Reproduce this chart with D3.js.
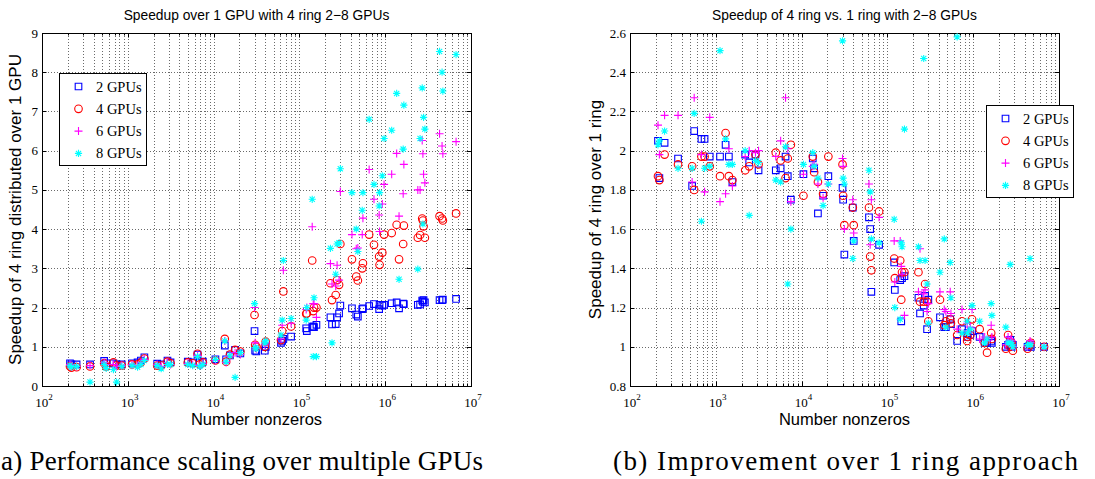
<!DOCTYPE html>
<html>
<head>
<meta charset="utf-8">
<script src="https://cdn.jsdelivr.net/npm/d3@7"></script>
<style>
  html, body { margin: 0; padding: 0; background: #fff; }
  svg { display: block; }
</style>
</head>
<body>
<svg id="fig" width="1095" height="479"></svg>
<script>
// Number of nonzeros of each test matrix (shared by both panels)
const nnz = [212, 220, 253, 363, 530, 560, 680, 740, 850, 1120,
  1300, 1420, 1560, 2200, 2450, 2900, 3150, 5000, 5700, 6500,
  6900, 7500, 10500, 13500, 14000, 15500, 17800, 20500, 30000, 30500,
  31500, 39500, 40500, 61000, 63000, 65000, 80000, 120000, 122000, 141000,
  145000, 148000, 158000, 230000, 240000, 265000, 275000, 290000, 300000, 410000,
  460000, 480000, 540000, 550000, 650000, 740000, 850000, 860000, 925000, 970000,
  1190000, 1360000, 1450000, 1620000, 1650000, 2400000, 2550000, 2700000, 2750000, 2800000,
  2900000, 4300000, 4600000, 4700000, 6700000];

// Panel (a): speedup of 4-ring distribution over a single GPU
const speedup2 = [.58, .55, .55, .55, .64, .58, .58, .55, .55, .58,
  .60, .65, .73, .57, .55, .65, .60, .62, .60, .80,
  .60, .62, .68, 1.03, .68, .78, .92, .83, 1.40, .90,
  .88, .90, 1.00, 1.10, 1.15, 1.20, 1.26, 1.47, 1.40, 1.50,
  1.52, 1.50, 1.56, 1.75, 1.57, 1.58, 1.75, 1.85, 2.05, 1.98,
  1.82, 1.77, 1.96, 1.98, 2.04, 2.09, 1.96, 2.07, 2.05, 2.07,
  2.11, 2.13, 1.98, 2.10, 2.09, 2.07, 2.08, 2.18, 2.15, 2.19,
  2.13, 2.19, 2.19, 2.20, 2.22];
const speedup4 = [.50, .47, .48, .50, .58, .50, .60, .52, .52, .55,
  .55, .60, .70, .52, .52, .62, .58, .60, .58, .82,
  .55, .60, .65, 1.20, .62, .80, .92, .88, 1.81, 1.05,
  1.00, 1.00, 1.13, 1.17, 1.40, 2.41, 1.52, 1.84, 1.85, 3.20,
  1.91, 2.00, 2.00, 2.62, 2.19, 2.32, 2.70, 2.58, 3.62, 3.23,
  2.79, 2.69, 3.00, 3.13, 3.86, 3.60, 3.30, 3.09, 3.40, 3.86,
  3.90, 4.11, 3.23, 3.62, 4.09, 3.78, 3.85, 4.27, 4.22, 4.07,
  3.78, 4.33, 4.27, 4.22, 4.40];
const speedup6 = [.55, .50, .50, .52, .60, .55, .55, .50, .52, .55,
  .52, .60, .68, .55, .50, .60, .55, .58, .55, .78,
  .52, .58, .65, 1.15, .60, .75, .85, .80, 2.00, 1.10,
  .95, 1.05, 1.10, 1.20, 1.55, 2.95, 1.60, 1.95, 2.00, 4.06,
  2.10, 2.10, 1.75, 3.12, 2.60, 2.55, 3.08, 2.70, 4.96, 3.86,
  3.50, 3.52, 3.86, 4.28, 5.52, 4.76, 4.36, 3.94, 4.64, 5.14,
  5.40, 5.93, 4.33, 4.90, 5.65, 5.00, 5.00, 6.26, 5.92, 5.40,
  5.18, 6.43, 6.12, 5.92, 6.23];
const speedup8 = [.52, .48, .50, .10, .55, .45, .42, .10, .50, .52,
  .48, .55, .65, .52, .44, .55, .55, .55, .52, .75,
  .50, .55, .68, 1.15, .62, .77, .22, .85, 2.10, .98,
  .95, 1.10, 1.15, 1.30, 1.68, 3.20, 1.72, 1.68, 2.00, 4.76,
  .75, 2.25, .75, 3.51, 1.10, 2.85, 3.62, 3.65, 5.54, 4.93,
  4.00, 3.43, 4.48, 4.93, 6.80, 5.14, 4.59, 4.93, 5.36, 6.31,
  6.52, 7.46, 2.72, 6.04, 7.16, 2.98, 6.31, 7.60, 4.13, 6.85,
  6.55, 8.53, 8.00, 7.52, 8.45];

// Panel (b): speedup of 4 rings versus 1 ring
const ringGain2 = [2.05, 1.86, 2.04, 1.96, 1.82, 2.10, 2.06, 2.06, 1.97, 1.97,
  2.03, 1.97, 1.84, 1.98, 1.94, 1.98, 1.90, 1.90, 1.91, 1.97,
  1.87, 1.75, 1.88, 1.96, 1.91, 1.68, 1.77, 1.87, 1.81, 1.75,
  1.47, 1.71, 1.54, 1.66, 1.60, 1.28, 1.52, 1.43, 1.29, 1.34,
  1.13, 1.35, 1.36, 1.25, 1.17, 1.21, 1.26, 1.09, 1.24, 1.15,
  1.10, 1.10, 1.14, 1.115, 1.03, 1.09, 1.05, 1.07, 1.06, 1.08,
  1.05, 1.02, 1.02, 1.03, 1.02, 1.00, 1.01, 1.035, 1.01, 1.00,
  1.01, 1.00, 1.01, 1.00, 1.00];
const ringGain4 = [1.87, 1.85, 1.98, 1.93, 1.92, 1.80, 1.97, 1.97, 1.92, 1.87,
  2.09, 1.87, 1.85, 1.90, 1.92, 1.98, 1.93, 1.99, 1.95, 1.86,
  1.96, 2.03, 1.77, 1.97, 1.89, 1.84, 1.78, 1.97, 1.93, 1.77,
  1.62, 1.71, 1.62, 1.71, 1.46, 1.39, 1.69, 1.45, 1.35, 1.44,
  1.24, 1.38, 1.38, 1.38, 1.23, 1.23, 1.32, 1.23, 1.13, 1.24,
  1.11, 1.13, 1.14, 1.12, 1.06, 1.13, 1.03, 1.05, 1.06, 1.14,
  1.09, 1.02, 0.97, 1.07, 1.04, 0.99, 1.06, 1.00, 1.01, 1.02,
  0.98, 0.99, 1.01, 1.02, 1.00];
const ringGain6 = [2.13, 1.98, 2.18, 2.18, 1.84, 2.27, 1.98, 1.79, 2.17, 1.74,
  1.78, 2.01, 1.82, 1.97, 2.00, 1.99, 2.00, 1.97, 2.05, 2.27,
  2.01, 1.74, 1.88, 1.92, 1.93, 1.83, 1.76, 1.83, 1.96, 1.92,
  1.60, 1.75, 1.58, 1.83, 1.52, 1.75, 1.66, 1.54, 1.33, 1.54,
  1.41, 1.37, 1.16, 1.28, 1.50, 1.27, 1.29, 1.18, 1.22, 1.28,
  1.19, 1.18, 1.28, 1.17, 1.09, 1.19, 1.12, 1.08, 1.10, 1.19,
  1.04, 1.05, 1.03, 1.11, 1.05, 1.01, 1.05, 1.02, 1.04, 1.03,
  1.00, 1.00, 1.03, 1.02, 1.00];
const ringGain8 = [2.03, 2.05, 2.10, 1.91, 1.91, 2.19, 1.64, 1.91, 1.92, 2.51,
  2.06, 1.93, 1.93, 2.00, 1.67, 1.95, 1.94, 1.85, 1.84, 2.02,
  1.32, 1.60, 1.93, 1.99, 1.92, 1.86, 1.72, 1.83, 2.56, 1.86,
  1.83, 1.45, 1.54, 1.90, 1.79, 1.55, 1.53, 1.65, 1.20, 1.14,
  1.53, 1.51, 2.11, 1.51, 1.44, 2.47, 1.44, 1.32, 1.12, 1.38,
  1.55, 1.10, 1.43, 1.25, 2.58, 1.07, 1.13, 1.07, 1.09, 1.21,
  1.13, 1.02, 1.04, 1.22, 1.16, 1.10, 1.02, 1.42, 1.02, 1.01,
  1.00, 1.01, 1.45, 1.01, 1.00];

const seriesNames = ["2 GPUs", "4 GPUs", "6 GPUs", "8 GPUs"];
const xTickExponents = [2, 3, 4, 5, 6, 7];
const yTicksA = [0, 1, 2, 3, 4, 5, 6, 7, 8, 9];
const yTicksB = [0.8, 1, 1.2, 1.4, 1.6, 1.8, 2, 2.2, 2.4, 2.6];

// Marker look for each series (MATLAB style: square, circle, plus, asterisk)
const markerStyles = [
  { color: "#0000ff", path: "M-3.3,-3.3H3.3V3.3H-3.3Z" },
  { color: "#ff0000", path: "M3.8,0A3.8,3.8 0 1,1 -3.8,0A3.8,3.8 0 1,1 3.8,0Z" },
  { color: "#ff00ff", path: "M-4,0H4M0,-4V4" },
  { color: "#00ffff", path: "M-3.6,0H3.6M0,-3.6V3.6M-2.6,-2.6L2.6,2.6M-2.6,2.6L2.6,-2.6" }
];

const SANS = "'Liberation Sans', Arial, Helvetica, sans-serif";
const SERIF = "'Liberation Serif', 'Times New Roman', serif";

const svg = d3.select("#fig");

function drawPanel(cfg) {
  const g = svg.append("g");
  const x = d3.scaleLog().domain([1e2, 1e7]).range([cfg.left, cfg.right]);
  const y = d3.scaleLinear().domain([cfg.yTicks[0], cfg.yTicks[cfg.yTicks.length - 1]])
    .range([cfg.bottom, cfg.top]);

  const majorX = xTickExponents.map(e => Math.pow(10, e));
  const minorX = [];
  for (let e = 2; e < 7; e++) for (let m = 2; m <= 9; m++) minorX.push(m * Math.pow(10, e));

  // dotted grid
  const grid = g.append("g").attr("stroke", "#6a6a6a").attr("stroke-width", 1)
    .attr("stroke-dasharray", "1,2").attr("fill", "none");
  grid.selectAll(".gx").data(majorX.slice(1, -1).concat(minorX)).join("line")
    .attr("x1", d => Math.round(x(d)) + 0.5).attr("x2", d => Math.round(x(d)) + 0.5)
    .attr("y1", cfg.top).attr("y2", cfg.bottom);
  grid.selectAll(".gy").data(cfg.yTicks.slice(1, -1)).join("line")
    .attr("y1", d => Math.round(y(d)) + 0.5).attr("y2", d => Math.round(y(d)) + 0.5)
    .attr("x1", cfg.left).attr("x2", cfg.right);

  // inward tick marks on all four sides
  const ticks = g.append("g").attr("stroke", "#000").attr("stroke-width", 1);
  const tl = 4.5, tm = 2.5;
  [[majorX, tl], [minorX, tm]].forEach(([vals, len]) => {
    ticks.selectAll(null).data(vals).join("line")
      .attr("x1", d => Math.round(x(d)) + 0.5).attr("x2", d => Math.round(x(d)) + 0.5)
      .attr("y1", cfg.bottom).attr("y2", cfg.bottom - len);
    ticks.selectAll(null).data(vals).join("line")
      .attr("x1", d => Math.round(x(d)) + 0.5).attr("x2", d => Math.round(x(d)) + 0.5)
      .attr("y1", cfg.top).attr("y2", cfg.top + len);
  });
  ticks.selectAll(null).data(cfg.yTicks).join("line")
    .attr("y1", d => Math.round(y(d)) + 0.5).attr("y2", d => Math.round(y(d)) + 0.5)
    .attr("x1", cfg.left).attr("x2", cfg.left + tl);
  ticks.selectAll(null).data(cfg.yTicks).join("line")
    .attr("y1", d => Math.round(y(d)) + 0.5).attr("y2", d => Math.round(y(d)) + 0.5)
    .attr("x1", cfg.right).attr("x2", cfg.right - tl);

  // axes box
  g.append("rect").attr("x", cfg.left + 0.5).attr("y", cfg.top + 0.5)
    .attr("width", cfg.right - cfg.left).attr("height", cfg.bottom - cfg.top)
    .attr("fill", "none").attr("stroke", "#000").attr("stroke-width", 1);

  // data markers, 2 GPUs first so 8 GPUs ends up on top
  cfg.series.forEach((vals, i) => {
    const st = markerStyles[i];
    g.append("g").selectAll("path").data(vals.map((v, k) => [nnz[k], v])).join("path")
      .attr("d", st.path)
      .attr("transform", d => `translate(${x(d[0])},${y(d[1])})`)
      .attr("fill", "none").attr("stroke", st.color).attr("stroke-width", 1.1);
  });

  // x tick labels 10^n
  const xl = g.append("g").attr("font-family", SERIF).attr("font-size", 13).attr("fill", "#000");
  xTickExponents.forEach(e => {
    const t = xl.append("text").attr("x", x(Math.pow(10, e)) + 2).attr("y", cfg.bottom + 21)
      .attr("text-anchor", "middle");
    t.append("tspan").text("10");
    t.append("tspan").attr("font-size", 9).attr("dy", -7).text(String(e));
  });

  // y tick labels
  g.append("g").attr("font-family", SERIF).attr("font-size", 13).attr("fill", "#000")
    .selectAll("text").data(cfg.yTicks).join("text")
    .attr("x", cfg.left - 4).attr("y", d => y(d) + 4.5)
    .attr("text-anchor", "end").text(d => String(d));

  // title and axis labels
  const cx = (cfg.left + cfg.right) / 2;
  g.append("text").attr("x", cx).attr("y", 20).attr("text-anchor", "middle")
    .attr("font-family", SANS).attr("font-size", 13.8).text(cfg.title);
  g.append("text").attr("x", cx).attr("y", 425).attr("text-anchor", "middle")
    .attr("font-family", SANS).attr("font-size", 16.5).text("Number nonzeros");
  g.append("text").attr("transform", `translate(${cfg.yLabelX},${(cfg.top + cfg.bottom) / 2}) rotate(-90)`)
    .attr("text-anchor", "middle").attr("font-family", SANS).attr("font-size", 17)
    .text(cfg.yLabel);

  // legend
  const lg = g.append("g").attr("transform", `translate(${cfg.legend[0]},${cfg.legend[1]})`);
  lg.append("rect").attr("x", 0.5).attr("y", 0.5).attr("width", 87).attr("height", 92)
    .attr("fill", "#fff").attr("stroke", "#000").attr("stroke-width", 1);
  seriesNames.forEach((name, i) => {
    const yy = 13.5 + i * 22.3;
    lg.append("path").attr("d", markerStyles[i].path).attr("transform", `translate(19.5,${yy})`)
      .attr("fill", "none").attr("stroke", markerStyles[i].color).attr("stroke-width", 1.1);
    lg.append("text").attr("x", 37).attr("y", yy + 5).attr("font-family", SERIF)
      .attr("font-size", 14.5).text(name);
  });

  // caption under the panel
  g.append("text").attr("x", cfg.caption[0]).attr("y", 470)
    .attr("font-family", SERIF).attr("font-size", 27)
    .attr("textLength", cfg.caption[1]).attr("lengthAdjust", "spacing")
    .text(cfg.caption[2]);
}

drawPanel({
  left: 42, right: 471, top: 33, bottom: 386,
  yTicks: yTicksA,
  series: [speedup2, speedup4, speedup6, speedup8],
  title: "Speedup over 1 GPU with 4 ring 2\u22128 GPUs",
  yLabel: "Speedup of 4 ring distributed over 1 GPU",
  yLabelX: 21,
  legend: [59, 73],
  caption: [1, 482, "a) Performance scaling over multiple GPUs"]
});

drawPanel({
  left: 630, right: 1059, top: 33, bottom: 386,
  yTicks: yTicksB,
  series: [ringGain2, ringGain4, ringGain6, ringGain8],
  title: "Speedup of 4 ring vs. 1 ring with 2\u22128 GPUs",
  yLabel: "Speedup of 4 ring over 1 ring",
  yLabelX: 601,
  legend: [986, 105],
  caption: [613, 465, "(b) Improvement over 1 ring approach"]
});
</script>
</body>
</html>
